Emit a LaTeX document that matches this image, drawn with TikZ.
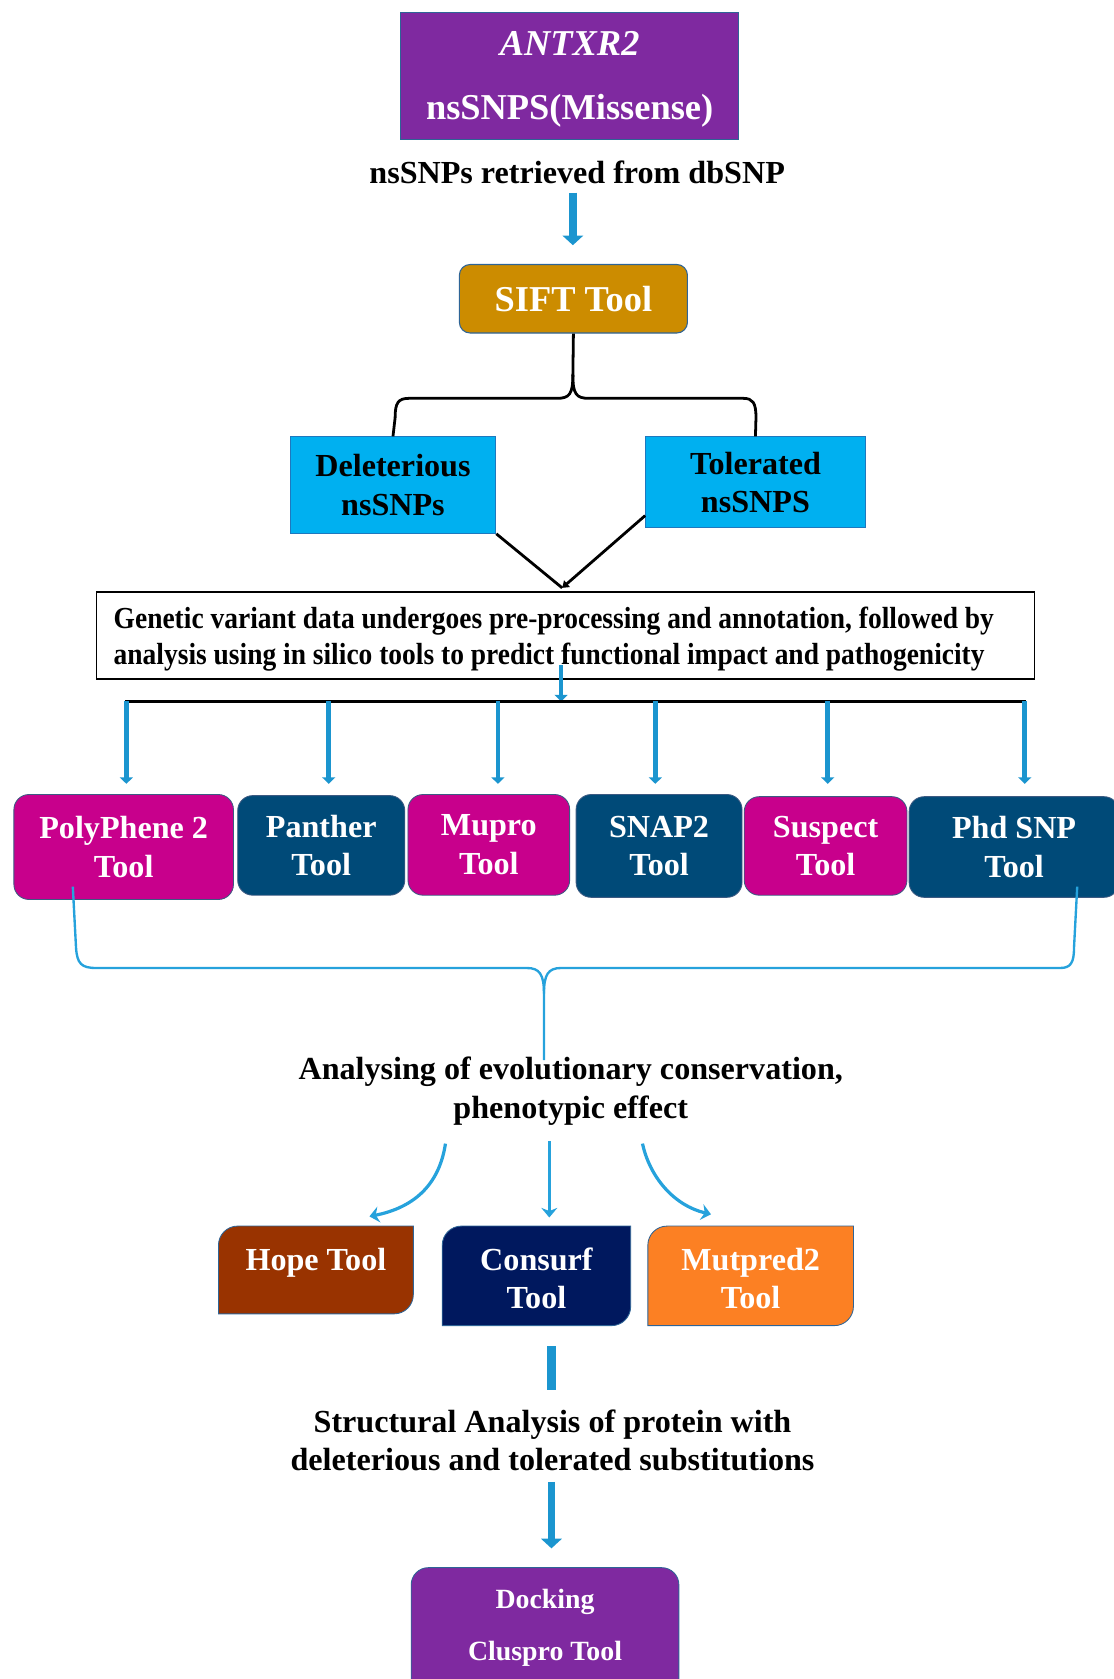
\documentclass[tikz,border=0pt]{standalone}
\usepackage{fontspec}
\setmainfont{Liberation Serif}
\newfontfamily\condfont{Liberation Serif}[FakeStretch=0.9]
\usetikzlibrary{arrows.meta,calc}
\definecolor{purp}{RGB}{127,41,160}
\definecolor{gold}{RGB}{204,140,0}
\definecolor{cyanbox}{RGB}{0,176,240}
\definecolor{magbox}{RGB}{200,0,140}
\definecolor{dbluebox}{RGB}{0,74,120}
\definecolor{brownbox}{RGB}{153,51,0}
\definecolor{navybox}{RGB}{0,24,94}
\definecolor{orangebox}{RGB}{252,128,35}
\definecolor{arrblue}{RGB}{27,149,207}
\definecolor{brblue}{RGB}{38,162,220}
\definecolor{edgeblue}{RGB}{46,100,150}
\newcommand\diagshape[6]{%
  \filldraw[fill=#6,draw=edgeblue,line width=0.8pt] (#2,#5) -- (#2,#3+18) .. controls (#2,#3+8) and (#2+8,#3) .. (#2+18,#3) -- (#4,#3) -- (#4,#5-18) .. controls (#4,#5-8) and (#4-8,#5) .. (#4-18,#5) -- cycle;}
\begin{document}
\begin{tikzpicture}[x=1pt,y=-1pt,
  every node/.style={font=\bfseries\fontsize{30}{36}\selectfont,align=center,inner sep=0pt},
  topbox/.style={rectangle,fill=purp,draw=edgeblue,line width=1pt,text=white},
  siftbox/.style={rectangle,rounded corners=10pt,fill=gold,draw=edgeblue,line width=1pt,text=white},
  cybox/.style={rectangle,fill=cyanbox,draw={rgb,255:red,30;green,120;blue,190},line width=1pt,text=black},
  toolbox/.style={rectangle,rounded corners=14pt,draw={rgb,255:red,60;green,90;blue,130},line width=0.8pt,text=white},
  bigarrow/.style={draw=arrblue,line width=7pt,-{Triangle[width=19pt,length=9pt]}},
  smallarrow/.style={draw=arrblue,line width=4.5pt,-{Triangle[width=12pt,length=6pt]}},
  curvarrow/.style={draw=brblue,line width=3pt,-{Stealth[width=15pt,length=9pt,inset=3pt]}},
  blackline/.style={draw=black,line width=2.6pt},
  bluebrace/.style={draw=brblue,line width=2.2pt}
]
\useasboundingbox (0,0) rectangle (1040,1568);

% top box
\node[topbox,minimum width=316pt,minimum height=118pt] (top) at (532,71) {};
\node[text=white,font=\bfseries\fontsize{34}{60}\selectfont] (toptext) at (532,74) {\textit{ANTXR2}\\nsSNPS(Missense)};
\node (retr) at (539,161) {nsSNPs retrieved from dbSNP};
\node[siftbox,minimum width=213pt,minimum height=64pt,font=\bfseries\fontsize{34}{40}\selectfont] (sift) at (535.5,279) {SIFT Tool};
\coordinate (a1s) at (535,180);
\coordinate (a1e) at (535,229);
\draw[bigarrow] (a1s) -- (a1e);

% deleterious / tolerated
\node[cybox,minimum width=192pt,minimum height=90pt] (del) at (367,453) {Deleterious\\nsSNPs};
\node[cybox,minimum width=205pt,minimum height=85pt] (tol) at (705.5,450.5) {Tolerated\\nsSNPS};
\draw[blackline,line join=round] (sift.south) -- (535,350) .. controls (535,368) and (532,372) .. (520,372) -- (382,372) .. controls (372,372) and (369,376) .. (369,390) -- (del.north);
\draw[blackline,line join=round] (535,350) .. controls (535,368) and (538,372) .. (550,372) -- (694,372) .. controls (703,372) and (706,376) .. (706,390) -- (tol.north);

% gray box
\node[rectangle,draw=black,line width=1.4pt,fill=white,minimum width=876pt,minimum height=81pt] (gen) at (528,593.5) {};
\node[anchor=west,align=left,font=\condfont\bfseries\fontsize{28.5}{33}\selectfont] (gentext) at (106,597) {Genetic variant data undergoes pre-processing and annotation, followed by\\analysis using in silico tools to predict functional impact and pathogenicity};
\coordinate (meet) at (525,549);
\draw[blackline] (del.south east) -- (meet);
\draw[blackline,-{Triangle[width=8pt,length=6pt]}] ($(tol.south west)+(0,-12)$) -- (meet);

% distribution line
\coordinate (a2s) at (524,621);
\coordinate (hl) at (117,655);
\coordinate (hr) at (958,655);
\draw[smallarrow,line width=3.5pt] (a2s) -- (524,655);
\draw[draw=black,line width=3pt] (hl) -- (hr);

% tool boxes
\node[toolbox,fill=magbox,minimum width=205pt,minimum height=98pt] (poly) at (115.5,791) {PolyPhene 2\\Tool};
\node[toolbox,fill=dbluebox,minimum width=156pt,minimum height=93pt] (panth) at (300,789.5) {Panther\\Tool};
\node[toolbox,fill=magbox,minimum width=151pt,minimum height=94pt] (mupro) at (456.5,789) {Mupro\\Tool};
\node[toolbox,fill=dbluebox,minimum width=155pt,minimum height=96pt] (snap) at (615.5,790) {SNAP2\\Tool};
\node[toolbox,fill=magbox,minimum width=152pt,minimum height=92pt] (susp) at (771,790) {Suspect\\Tool};
\node[toolbox,fill=dbluebox,minimum width=196pt,minimum height=94pt] (phd) at (947,791) {Phd SNP\\Tool};
\foreach \xx/\nn in {118/poly,307/panth,465/mupro,612/snap,773/susp,957/phd}{
  \draw[smallarrow] (\xx,655) -- (\xx,732);
}

% blue brace
\coordinate (bl) at (68,828);
\coordinate (br) at (1006,828);
\coordinate (bc) at (508,990);
\draw[bluebrace,line join=round] (bl) -- (71,885) .. controls (72,900) and (76,904) .. (90,904) -- (492,904) .. controls (504,904) and (508,910) .. (508,928) -- (bc);
\draw[bluebrace,line join=round] (508,928) .. controls (508,910) and (512,904) .. (524,904) -- (990,904) .. controls (1000,904) and (1003,899) .. (1003,885) -- (br);

\node (anal) at (533,1019) {Analysing of evolutionary conservation,\\phenotypic effect};

% lower boxes
\diagshape{hope}{204}{1145}{386}{1227}{brownbox}
\diagshape{cons}{413}{1145}{589}{1238}{navybox}
\diagshape{mutp}{605}{1145}{797}{1238}{orangebox}
\node[text=white] (hope) at (295,1179) {Hope Tool};
\node[text=white] (cons) at (501,1194) {Consurf\\Tool};
\node[text=white] (mutp) at (701,1194) {Mutpred2\\Tool};

\coordinate (c1s) at (416,1068);
\coordinate (c1e) at (345,1136);
\coordinate (c2s) at (513,1066);
\coordinate (c2e) at (513,1137);
\coordinate (c3s) at (600,1068);
\coordinate (c3e) at (664,1134);
\draw[curvarrow] (c1s) .. controls (410,1108) and (385,1128) .. (c1e);
\draw[curvarrow] (c2s) -- (c2e);
\draw[curvarrow] (c3s) .. controls (607,1100) and (630,1126) .. (c3e);

% structural
\coordinate (b1s) at (515,1257);
\coordinate (b1e) at (515,1298);
\draw[draw=arrblue,line width=9pt] (b1s) -- (b1e);
\node (struct) at (516,1345) {Structural Analysis of protein with\\deleterious and tolerated substitutions};
\coordinate (a3s) at (515,1384);
\coordinate (a3e) at (515,1446);
\draw[bigarrow] (a3s) -- (a3e);

% docking
\node[toolbox,rounded corners=16pt,fill=purp,draw=edgeblue,minimum width=250pt,minimum height=120pt] (dockbox) at (509,1524) {};
\node[text=white,font=\bfseries\fontsize{26}{49}\selectfont] (dock) at (509,1520) {Docking\\Cluspro Tool};
\end{tikzpicture}
\end{document}
